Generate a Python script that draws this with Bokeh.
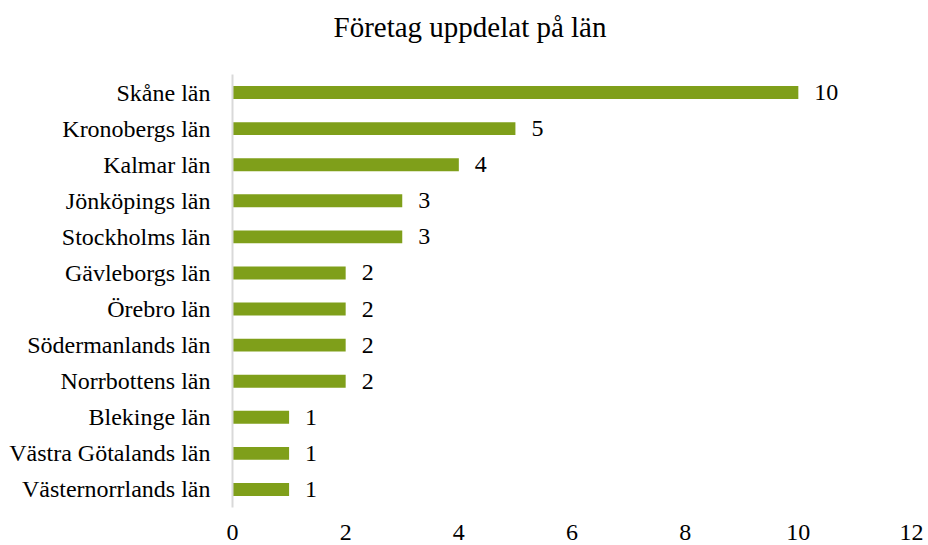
from bokeh.plotting import figure
from bokeh.models import ColumnDataSource, Range1d, FactorRange, FixedTicker, Title
from bokeh.core.properties import value
from bokeh.embed import file_html
from bokeh.resources import INLINE

title_text = "Företag uppdelat på län"
counties = ["Skåne län", "Kronobergs län", "Kalmar län", "Jönköpings län",
            "Stockholms län", "Gävleborgs län", "Örebro län", "Södermanlands län",
            "Norrbottens län", "Blekinge län", "Västra Götalands län", "Västernorrlands län"]
counts = [10, 5, 4, 3, 3, 2, 2, 2, 2, 1, 1, 1]
x_ticks = [0, 2, 4, 6, 8, 10, 12]

FONT = "'Liberation Serif', 'Times New Roman', serif"
BAR = "#7F9F1A"
LBL = "24px"

src = ColumnDataSource(dict(county=counties, count=counts,
                            label=[str(c) for c in counts]))

p = figure(width=928, height=545, output_backend="svg", toolbar_location=None,
           y_range=FactorRange(factors=counties[::-1], range_padding=0),
           x_range=Range1d(0, 12),
           min_border_left=232, min_border_right=17, min_border_top=74,
           min_border_bottom=38)

p.hbar(y="county", right="count", left=0, height=0.36, source=src,
       fill_color=BAR, line_color=None)
p.text(x="count", y="county", text="label", source=src, x_offset=16,
       text_align="left", text_baseline="middle", text_font=value(FONT),
       text_font_size=LBL, text_color="#000000")

# spacer between chart title and plot area
p.add_layout(Title(text=" ", text_font_size="10px", standoff=19), "above")
p.add_layout(Title(text=title_text, align="left", offset=101,
                   vertical_align="bottom", standoff=0,
                   text_font=FONT, text_font_size="29px",
                   text_font_style="normal", text_color="#000000"), "above")

p.outline_line_color = None
p.xgrid.grid_line_color = None
p.ygrid.grid_line_color = None

p.xaxis.ticker = FixedTicker(ticks=x_ticks)
p.xaxis.axis_line_color = None
p.xaxis.major_tick_line_color = None
p.xaxis.minor_tick_line_color = None
p.xaxis.major_label_standoff = 11
p.xaxis.major_label_text_font = FONT
p.xaxis.major_label_text_font_size = LBL
p.xaxis.major_label_text_color = "#000000"

p.yaxis.axis_line_color = "#D9D9D9"
p.yaxis.axis_line_width = 2
p.yaxis.major_tick_line_color = None
p.yaxis.minor_tick_line_color = None
p.yaxis.major_label_standoff = 16
p.yaxis.major_label_text_font = FONT
p.yaxis.major_label_text_font_size = LBL
p.yaxis.major_label_text_color = "#000000"

open("out.html", "w").write(file_html(p, INLINE))
